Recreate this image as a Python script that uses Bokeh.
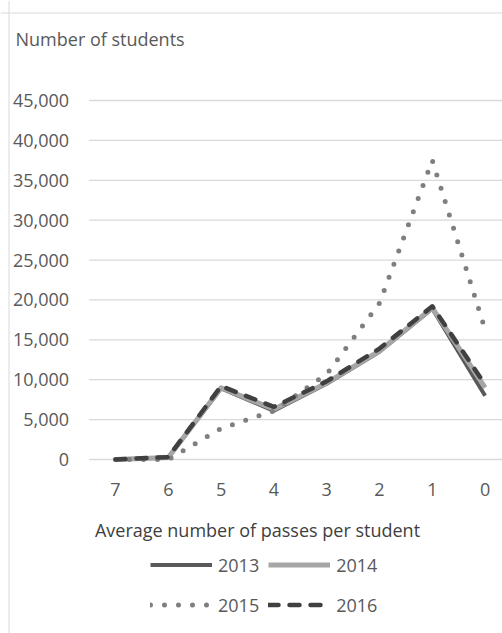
from bokeh.plotting import figure
from bokeh.models import Range1d, Legend, LegendItem, Label, Span
from bokeh.core.properties import value
from bokeh.embed import file_html
from bokeh.resources import INLINE

# ---- data ----
cats = [7, 6, 5, 4, 3, 2, 1, 0]
tick_labels = ["7", "6", "5", "4", "3", "2", "1", "0"]
y_ticks = [0, 5000, 10000, 15000, 20000, 25000, 30000, 35000, 40000, 45000]
y_tick_labels = ["0", "5,000", "10,000", "15,000", "20,000", "25,000",
                 "30,000", "35,000", "40,000", "45,000"]
s2013 = [0, 250, 8900, 6100, 9500, 13500, 18900, 8000]
s2014 = [0, 250, 9000, 6300, 9600, 13600, 19000, 9000]
s2015 = [0, 0, 3900, 6100, 10700, 19600, 37500, 16300]
s2016 = [0, 300, 9200, 6600, 9800, 13900, 19200, 9400]
years = ["2013", "2014", "2015", "2016"]

FONT = "Open Sans"
GREY = "#595959"
FS = "18px"

# plot area occupies the whole canvas; axis decorations drawn by hand
W, H = 502, 633
px_per_cat = 52.8
x_left = 7 + 115 / px_per_cat
x_right = 7 - (W - 115) / px_per_cat
px_per_unit = 359 / 45000
y_top = 45000 + 100 / px_per_unit
y_bot = -(H - 459) / px_per_unit

p = figure(width=W, height=H, output_backend="svg", toolbar_location=None,
           x_range=Range1d(x_left, x_right), y_range=Range1d(y_bot, y_top),
           min_border=0, x_axis_type=None, y_axis_type=None)
p.outline_line_color = None
p.grid.grid_line_color = None
p.background_fill_color = "white"
p.border_fill_color = "white"

# chart-area border (left and top)
p.add_layout(Span(location=8.5, location_units="screen", dimension="height",
                  line_color="#d9d9d9", line_width=1))
p.add_layout(Span(location=H - 12.5, location_units="screen", dimension="width",
                  line_color="#d9d9d9", line_width=1))

# gridlines
x_axis_start = max(cats) + 0.5
n = len(y_ticks)
p.segment(x0=[x_axis_start] * n, x1=[x_right - 1] * n, y0=y_ticks, y1=y_ticks,
          line_color="#d9d9d9", line_width=1.3)

# y tick labels
p.text(x=[x_axis_start] * n, y=y_ticks, text=y_tick_labels,
       x_offset=-20, text_align="right", text_baseline="middle",
       text_font=value(FONT), text_font_size=FS, text_color=GREY)

# x tick labels
p.text(x=cats, y=[0] * len(cats), text=tick_labels,
       y_offset=30, text_align="center", text_baseline="middle",
       text_font=value(FONT), text_font_size=FS, text_color=GREY)

# series
r1 = p.line(cats, s2013, line_color="#595959", line_width=4, line_join="round")
r2 = p.line(cats, s2014, line_color="#a6a6a6", line_width=5, line_join="round")
r3 = p.line(cats, s2015, line_color="#7f7f7f", line_width=5, line_dash="0 14",
            line_cap="round", line_join="round")
r4 = p.line(cats, s2016, line_color="#404040", line_width=4.5, line_dash="10 11",
            line_cap="round", line_join="round")

legend = Legend(items=[LegendItem(label=y, renderers=[r]) for y, r in zip(years, [r1, r2, r3, r4])],
                orientation="horizontal", ncols=2,
                location=(150, 13), padding=0, margin=0, spacing=9,
                glyph_width=62, glyph_height=31, label_standoff=6,
                label_text_font=FONT, label_text_font_size=FS, label_text_color=GREY,
                border_line_color=None, background_fill_alpha=0)
p.add_layout(legend, "center")

p.add_layout(Label(x=15, y=H - 38, x_units="screen", y_units="screen",
                   text="Number of students",
                   text_font=FONT, text_font_size=FS, text_color=GREY,
                   text_align="left", text_baseline="middle"))
p.add_layout(Label(x=257, y=H - 529, x_units="screen", y_units="screen",
                   text="Average number of passes per student",
                   text_font=FONT, text_font_size=FS, text_color="#404040",
                   text_align="center", text_baseline="middle"))

open("out.html", "w").write(file_html(p, INLINE))
